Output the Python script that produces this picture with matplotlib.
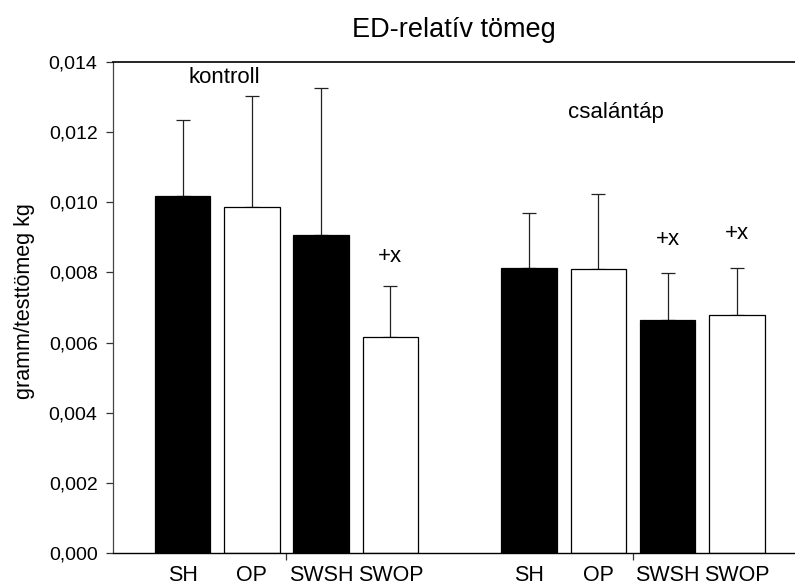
import matplotlib
matplotlib.use("Agg")
import matplotlib.pyplot as plt
from matplotlib.ticker import FuncFormatter, FixedLocator

plt.rcParams["font.family"] = ["Liberation Sans", "DejaVu Sans"]

# Group and bar labels
groups = ["kontroll", "csalántáp"]
bar_labels = ["SH", "OP", "SWSH", "SWOP"]

# Mean relative mass (gram / body mass kg) and standard errors
kontroll_mean = [0.01019, 0.00986, 0.00907, 0.00615]
kontroll_err = [0.00216, 0.00317, 0.00420, 0.00147]
csalan_mean = [0.00813, 0.00811, 0.00663, 0.00679]
csalan_err = [0.00157, 0.00213, 0.00136, 0.00135]

# Significance marks: (group index, bar index)
marks = [(0, 3), (1, 2), (1, 3)]
mark_text = "+x"

title = "ED-relatív tömeg"
ylabel = "gramm/testtömeg kg"

fig = plt.figure(figsize=(7.95, 5.86), dpi=100)
ax = fig.add_axes([0.1425, 0.0568, 0.8575, 0.8369])

fills = ["black", "white", "black", "white"]
gap = 5  # distance between group starts, in bar slots
width = 0.8

means = [kontroll_mean, csalan_mean]
errs = [kontroll_err, csalan_err]

positions = []
for g in range(len(groups)):
    xs = [g * gap + i for i in range(len(bar_labels))]
    positions.extend(xs)
    ax.bar(xs, means[g], width=width, color=fills, edgecolor="black",
           linewidth=0.9, zorder=2)
    ax.errorbar(xs, means[g], yerr=[[0] * len(xs), errs[g]], fmt="none",
                ecolor="#222222", elinewidth=0.9, capsize=5.2, capthick=0.9,
                zorder=1)

# "+x" marks above the error caps
mark_offsets = [17, 20, 20.5]
for (g, i), off in zip(marks, mark_offsets):
    top = means[g][i] + errs[g][i]
    ax.annotate(mark_text, xy=(g * gap + i, top), xytext=(0, off),
                textcoords="offset points", ha="center", va="baseline",
                fontsize=16)

# Group captions
ax.text(0.6, 0.01341, groups[0], ha="center", va="baseline", fontsize=16)
ax.text(6.26, 0.01241, groups[1], ha="center", va="baseline", fontsize=16)

ax.set_xlim(-1, 8.84)
ax.set_ylim(0, 0.014)

ax.set_yticks([0, 0.002, 0.004, 0.006, 0.008, 0.010, 0.012, 0.014])
ax.yaxis.set_major_formatter(FuncFormatter(lambda v, p: f"{v:.3f}".replace(".", ",")))
ax.tick_params(axis="y", direction="out", length=4.8, width=0.9, pad=6.5,
               labelsize=14, color="#333333")

# Bar labels at bar centres, tick marks between bar pairs
ax.set_xticks(positions)
ax.set_xticklabels(bar_labels * len(groups))
ax.tick_params(axis="x", which="major", length=0, pad=8.8, labelsize=15.5)
ax.xaxis.set_minor_locator(FixedLocator([g * gap + 1.5 for g in range(len(groups))]))
ax.tick_params(axis="x", which="minor", direction="out", length=4.8, width=0.9,
               color="#333333")

ax.spines["right"].set_visible(False)
ax.spines["top"].set_linewidth(1.2)
ax.spines["bottom"].set_linewidth(1.0)
ax.spines["left"].set_linewidth(0.9)
ax.spines["left"].set_color("#444444")

ax.set_title(title, fontsize=19.5, pad=18)
ax.set_ylabel(ylabel, fontsize=15.5)
ax.yaxis.set_label_coords(-0.115, 0.513)

fig.savefig("out.png", dpi=100)
